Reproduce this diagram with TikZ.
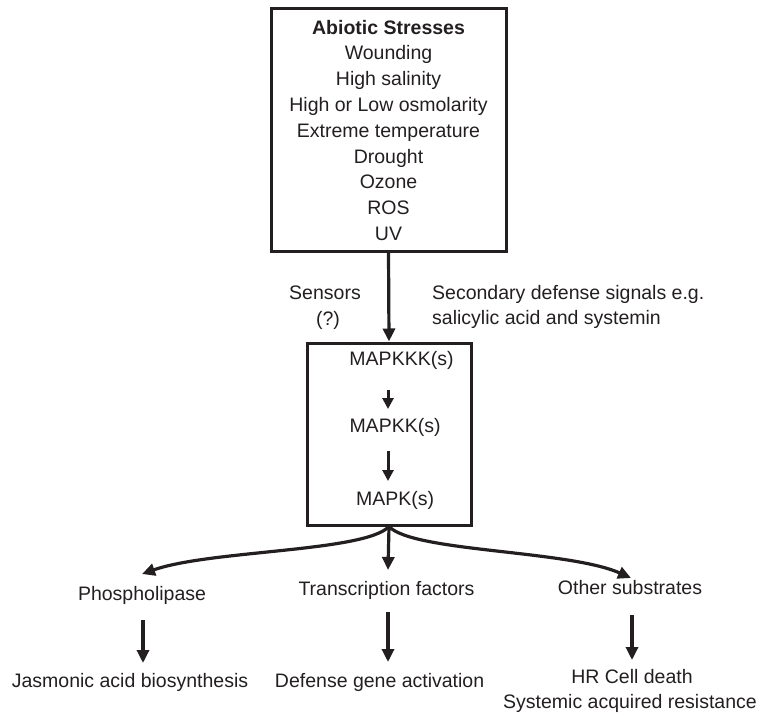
\documentclass[tikz,border=0pt]{standalone}
\usepackage{fontspec}
\setmainfont{Liberation Sans}
\usetikzlibrary{arrows.meta}
\definecolor{ink}{HTML}{231F20}
\begin{document}
\begin{tikzpicture}[x=1pt,y=-1pt,
  lbl/.style={anchor=base, inner sep=0pt, font=\fontsize{19.5}{24}\selectfont, text=ink},
  boxline/.style={draw=ink, line width=3pt, inner sep=0pt},
  arr/.style={draw=ink, line width=3.2pt, -{Triangle[length=13pt,width=12pt]}},
  sarr/.style={draw=ink, line width=3pt, -{Triangle[length=11pt,width=11pt]}},
]
\useasboundingbox (0,0) rectangle (762,715);
% boxes
\node[boxline, minimum width=235pt, minimum height=243pt] (top) at (388.5,129.5) {};
\node[boxline, minimum width=164pt, minimum height=182pt] (map) at (389,434) {};
% top box text
\node[lbl, font=\fontsize{19.5}{24}\selectfont\bfseries] (t0) at (388.5,34) {Abiotic Stresses};
\node[lbl] (t1) at (388.5,59.8) {Wounding};
\node[lbl] (t2) at (388.5,85.6) {High salinity};
\node[lbl] (t3) at (388.5,111.4) {High or Low osmolarity};
\node[lbl] (t4) at (388.5,137.2) {Extreme temperature};
\node[lbl] (t5) at (388.5,163) {Drought};
\node[lbl] (t6) at (388.5,188.8) {Ozone};
\node[lbl] (t7) at (388.5,214.6) {ROS};
\node[lbl] (t8) at (388.5,240.4) {UV};
% side labels
\node[lbl] (sens) at (325,299) {Sensors};
\node[lbl] (q) at (328,325) {(?)};
\node[lbl, anchor=base west] (sec1) at (432,299) {Secondary defense signals e.g.};
\node[lbl, anchor=base west] (sec2) at (432,324) {salicylic acid and systemin};
% map box text
\node[lbl] (k3) at (401.5,365) {MAPKKK(s)};
\node[lbl] (k2) at (395,432) {MAPKK(s)};
\node[lbl] (k1) at (395,505) {MAPK(s)};
\coordinate (a1s) at (388,390);
\coordinate (a1e) at (388,409);
\coordinate (a2s) at (388,451);
\coordinate (a2e) at (388,481);
\draw[sarr] (a1s) -- (a1e);
\draw[sarr] (a2s) -- (a2e);
% main arrow
\draw[arr] (top.south) -- (map.north);
% branches
\coordinate (tipL) at (142,574);
\coordinate (tipM) at (388,570);
\coordinate (tipR) at (631,578);
\draw[arr] (map.south) .. controls (365,552) and (210,550) .. (tipL);
\draw[arr] (map.south) -- (tipM);
\draw[arr] (map.south) .. controls (413,552) and (568,550) .. (tipR);
% second level labels
\node[lbl] (phos) at (142,600) {Phospholipase};
\node[lbl] (tf) at (386.5,595) {Transcription factors};
\node[lbl] (oth) at (630,594) {Other substrates};
% lower arrows
\coordinate (b1s) at (143,620);
\coordinate (b1e) at (143,663);
\coordinate (b2s) at (388,612);
\coordinate (b2e) at (388,662);
\coordinate (b3s) at (632,615);
\coordinate (b3e) at (632,660);
\draw[arr] (b1s) -- (b1e);
\draw[arr] (b2s) -- (b2e);
\draw[arr] (b3s) -- (b3e);
% bottom labels
\node[lbl] (jas) at (130,687) {Jasmonic acid biosynthesis};
\node[lbl] (def) at (379.6,687) {Defense gene activation};
\node[lbl] (hr) at (632,683) {HR Cell death};
\node[lbl] (sar) at (630,708) {Systemic acquired resistance};
\end{tikzpicture}
\end{document}
